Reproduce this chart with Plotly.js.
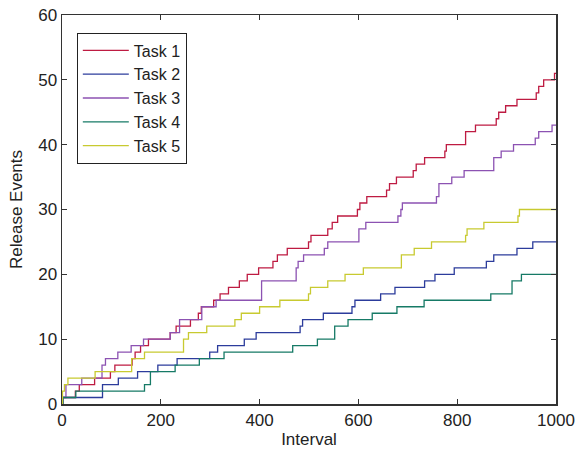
<!DOCTYPE html>
<html>
<head>
<meta charset="utf-8">
<script src="https://cdn.plot.ly/plotly-3.0.1.min.js"></script>
<style>html,body{margin:0;padding:0;background:#fff;}#chart{width:576px;height:449px;}</style>
</head>
<body>
<div id="chart"></div>
<script>
const seriesNames = ["Task 1", "Task 2", "Task 3", "Task 4", "Task 5"];
const seriesColors = ["#BE1B42", "#2C3C9C", "#8C52B2", "#167A66", "#C8CA30"];

const task1X = [0,1,27,35,66,98,107,142,148,159,175,219,231,260,276,282,307,320,337,359,375,398,427,436,456,499,504,538,547,558,598,603,617,657,663,677,711,717,734,775,778,817,837,879,884,898,921,960,965,975,997,1000];
const task1Y = [0,1,2,3,4,5,6,7,8,9,10,11,12,13,14,15,16,17,18,19,20,21,22,23,24,25,26,27,28,29,30,31,32,33,34,35,36,37,38,39,40,42,43,44,45,46,47,48,49,50,51,51];

const task2X = [0,2,82,114,153,194,233,299,315,369,393,482,487,529,587,593,645,674,734,755,794,859,874,921,953,1000];
const task2Y = [0,1,3,4,5,6,7,8,9,10,11,12,13,14,15,16,17,18,19,20,21,22,23,24,25,25];

const task3X = [0,2,8,40,81,88,113,140,165,219,238,283,312,404,474,478,489,531,538,601,615,680,686,689,758,763,789,814,874,889,914,958,965,992,1000];
const task3Y = [0,1,3,4,6,7,8,9,10,11,13,15,16,19,21,22,23,24,25,27,28,29,30,31,32,34,35,36,38,39,40,41,42,43,43];

const task4X = [0,2,28,167,179,229,278,328,467,517,552,579,628,678,733,868,911,930,1000];
const task4Y = [0,1,2,3,5,6,7,8,9,10,12,13,14,15,16,17,19,20,20];

const task5X = [0,1,5,12,67,141,167,246,256,293,350,363,400,441,499,503,538,573,610,687,713,748,817,820,854,923,926,1000];
const task5Y = [0,2,3,4,5,7,8,10,11,12,13,14,15,16,17,18,19,20,21,23,24,25,26,27,28,29,30,30];

const xTicks = [0,200,400,600,800,1000];
const yTicks = [0,10,20,30,40,50,60];

const allX = [task1X, task2X, task3X, task4X, task5X];
const allY = [task1Y, task2Y, task3Y, task4Y, task5Y];

const traces = seriesNames.map((name, i) => ({
  type: 'scatter',
  mode: 'lines',
  name: name,
  x: allX[i],
  y: allY[i],
  line: {shape: 'hv', color: seriesColors[i], width: 1.3}
}));

const fontFam = 'Liberation Sans, Arial, Helvetica, sans-serif';
const axisCommon = {
  showgrid: false,
  zeroline: false,
  showline: true,
  linecolor: '#333333',
  linewidth: 1.5,
  mirror: 'ticks',
  ticks: 'inside',
  ticklen: 5,
  tickwidth: 1,
  tickcolor: '#333333',
  tickfont: {family: fontFam, size: 17, color: '#222222'}
};

const layout = {
  width: 576,
  height: 449,
  margin: {l: 62, r: 20, t: 15, b: 45},
  paper_bgcolor: '#ffffff',
  plot_bgcolor: '#ffffff',
  font: {family: fontFam, size: 17, color: '#222222'},
  xaxis: Object.assign({}, axisCommon, {
    range: [0, 1000],
    tickvals: xTicks,
    ticktext: xTicks.map(String),
    title: {text: 'Interval', font: {family: fontFam, size: 17, color: '#222222'}, standoff: 4}
  }),
  yaxis: Object.assign({}, axisCommon, {
    range: [0, 60],
    tickvals: yTicks,
    ticktext: yTicks.map(String),
    title: {text: 'Release Events', font: {family: fontFam, size: 17, color: '#222222'}, standoff: 11}
  }),
  showlegend: true,
  legend: {
    x: 0.03, y: 0.955, xanchor: 'left', yanchor: 'top',
    bgcolor: '#ffffff',
    bordercolor: '#222222',
    borderwidth: 1,
    itemwidth: 46,
    font: {family: fontFam, size: 16, color: '#222222'}
  }
};

Plotly.newPlot('chart', traces, layout, {displayModeBar: false, staticPlot: true});
</script>
</body>
</html>
